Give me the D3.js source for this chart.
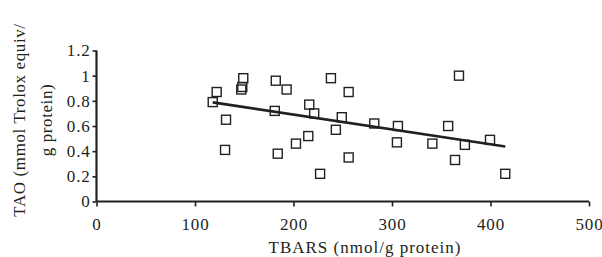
<!DOCTYPE html>
<html><head><meta charset="utf-8">
<script src="https://cdn.jsdelivr.net/npm/d3@7"></script>
<style>
body{margin:0;background:#fff;}
text{font-family:"Liberation Serif","Times New Roman",serif;fill:#231f20;}
</style></head>
<body><svg id="c" width="602" height="257"></svg>
<script>
const tbars = [118,122,131.5,130.5,147,148,149,181,182,184,193,202.5,215,216,221,227,238,243,249,256,256,282,305,306,341,357,364,368,374,399.5,415];
const tao   = [0.79,0.87,0.65,0.41,0.89,0.91,0.98,0.72,0.96,0.38,0.89,0.46,0.52,0.77,0.70,0.22,0.98,0.57,0.67,0.87,0.35,0.62,0.47,0.60,0.46,0.60,0.33,1.00,0.45,0.49,0.22];
const trendCoef = [0.9265, -0.001178]; // intercept, slope
const xTicks = [0,100,200,300,400,500];
const yTicks = [0,0.2,0.4,0.6,0.8,1,1.2];
const xTitle = "TBARS (nmol/g protein)";
const yTitle = ["TAO (mmol Trolox equiv/","g protein)"];

const svg = d3.select("#c");
const x = d3.scaleLinear().domain([0,500]).range([96.5,589]);
const y = d3.scaleLinear().domain([0,1.2]).range([201.5,50.5]);
const ink = "#231f20";

const gx = svg.append("g").attr("transform",`translate(0,${y(0)})`)
  .call(d3.axisBottom(x).tickValues(xTicks).tickSize(5).tickPadding(11).tickFormat(d3.format("d")));
const gy = svg.append("g").attr("transform",`translate(${x(0)},0)`)
  .call(d3.axisLeft(y).tickValues(yTicks).tickSize(4).tickPadding(2).tickFormat(d=>String(d)));
[gx,gy].forEach(g=>{
  g.select(".domain").attr("stroke",ink).attr("stroke-width",2.2);
  g.selectAll(".tick line").attr("stroke",ink).attr("stroke-width",1.6);
  g.selectAll(".tick text").attr("font-family","Liberation Serif").attr("font-size",17).attr("fill",ink).style("letter-spacing","0.8px");
});
gx.select(".domain").attr("d",`M${x(0)},0H${x(500)}`);
gy.select(".domain").attr("d",`M0,${y(1.2)}V${y(0)}`);

// trend line
const x0 = d3.min(tbars), x1 = d3.max(tbars);
svg.append("line")
  .attr("x1",x(x0)).attr("y1",y(trendCoef[0]+trendCoef[1]*x0))
  .attr("x2",x(x1)).attr("y2",y(trendCoef[0]+trendCoef[1]*x1))
  .attr("stroke",ink).attr("stroke-width",2.6);

// points
const s = 9;
svg.append("g").selectAll("rect").data(tbars.map((d,i)=>[d,tao[i]])).join("rect")
  .attr("x",d=>x(d[0])-s/2).attr("y",d=>y(d[1])-s/2)
  .attr("width",s).attr("height",s)
  .attr("fill","none").attr("stroke",ink).attr("stroke-width",1.4);

svg.append("text").attr("x",365).attr("y",253).attr("text-anchor","middle")
  .attr("font-size",17).style("letter-spacing","1px").text(xTitle);
svg.append("g").attr("transform","translate(25,120) rotate(-90)")
  .selectAll("text").data(yTitle).join("text")
  .attr("x",0).attr("y",(d,i)=>i*27).attr("text-anchor","middle")
  .attr("font-size",17).style("letter-spacing","0.6px").text(d=>d);
</script></body></html>
